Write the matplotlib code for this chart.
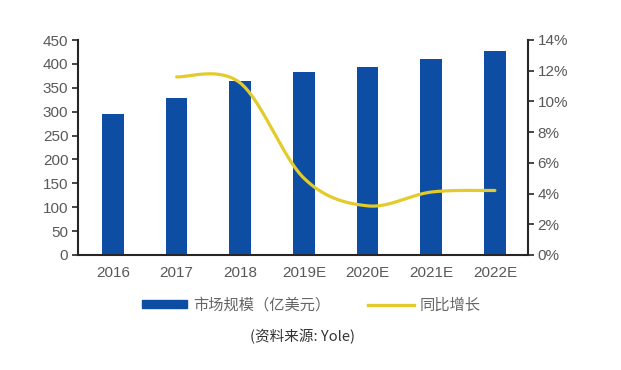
import numpy as np
import matplotlib
matplotlib.use("Agg")
import matplotlib.pyplot as plt
from matplotlib.patches import Patch
from matplotlib.lines import Line2D

years = ["2016", "2017", "2018", "2019E", "2020E", "2021E", "2022E"]
market_size = [295, 328, 365, 382, 394, 410, 428]
growth_years = ["2017", "2018", "2019E", "2020E", "2021E", "2022E"]
growth_pct = [11.6, 11.2, 5.0, 3.2, 4.1, 4.2]
left_ticks = [0, 50, 100, 150, 200, 250, 300, 350, 400, 450]
right_ticks = [0, 2, 4, 6, 8, 10, 12, 14]

BAR = "#0E4DA4"
LINE = "#E3CB2C"
TXT = "#595959"
SPINE = "#262626"

plt.rcParams["font.family"] = ["Liberation Sans", "DejaVu Sans"]

fig = plt.figure(figsize=(6.21, 3.70), dpi=100)
ax = fig.add_axes([78/621, 1-255/370, (528-78)/621, (255-40)/370])
x = np.arange(len(years))
ax.bar(x, market_size, width=0.34, color=BAR, zorder=2)
ax.set_xlim(-0.55, 6.52)
ax.set_ylim(0, 450)
ax.set_yticks(left_ticks)
ax.set_xticks(x)
ax.set_xticklabels(years)
for s in ["top", "right"]:
    ax.spines[s].set_visible(False)
for s in ["left", "bottom"]:
    ax.spines[s].set_color(SPINE)
    ax.spines[s].set_linewidth(1.5)
ax.tick_params(axis="y", direction="out", length=4, width=1.2, color=SPINE,
               labelsize=11, labelcolor=TXT, pad=3)
ax.tick_params(axis="x", length=0, labelsize=11, labelcolor=TXT, pad=8)

ax2 = ax.twinx()
ax2.set_ylim(0, 14)
ax2.set_yticks(right_ticks)
ax2.set_yticklabels([f"{t}%" for t in right_ticks])
for s in ["top", "left", "bottom"]:
    ax2.spines[s].set_visible(False)
ax2.spines["right"].set_color(SPINE)
ax2.spines["right"].set_linewidth(1.5)
ax2.tick_params(axis="y", direction="out", length=4, width=1.2, color=SPINE,
                labelsize=11, labelcolor=TXT, pad=3)

# smoothed line (Catmull-Rom rendering like Excel's smooth line)
gx = np.array([years.index(g) for g in growth_years], dtype=float)
gy = np.array(growth_pct, dtype=float)
n = len(gx)
px = np.concatenate([[gx[0]], gx, [gx[-1]]])
py = np.concatenate([[gy[0]], gy, [gy[-1]]])
cx, cy = [], []
t = np.linspace(0, 1, 40)
for i in range(n - 1):
    p0x, p1x, p2x, p3x = px[i], px[i+1], px[i+2], px[i+3]
    p0y, p1y, p2y, p3y = py[i], py[i+1], py[i+2], py[i+3]
    m1x, m2x = (p2x - p0x) / 2, (p3x - p1x) / 2
    m1y, m2y = (p2y - p0y) / 2, (p3y - p1y) / 2
    h00 = 2*t**3 - 3*t**2 + 1
    h10 = t**3 - 2*t**2 + t
    h01 = -2*t**3 + 3*t**2
    h11 = t**3 - t**2
    cx.extend(h00*p1x + h10*m1x + h01*p2x + h11*m2x)
    cy.extend(h00*p1y + h10*m1y + h01*p2y + h11*m2y)
ax2.plot(cx, cy, color=LINE, lw=2.3, solid_capstyle="round", zorder=3)

cjk = ["Noto Sans CJK SC", "DejaVu Sans"]
handles = [Patch(facecolor=BAR, edgecolor=BAR),
           Line2D([0], [0], color=LINE, lw=2.4)]
leg = fig.legend(handles, ["市场规模（亿美元）", "同比增长"], loc="center",
                 bbox_to_anchor=(311/621, 1-305/370), ncol=2, frameon=False,
                 prop={"family": cjk, "size": 11}, handlelength=3.0,
                 handleheight=0.45, handletextpad=0.35, columnspacing=2.5)
for txt in leg.get_texts():
    txt.set_color("#666666")

fig.text(302/621, 1-337/370, "(资料来源: Yole)", ha="center", va="center",
         fontsize=10.5, color="#333333", family=["Noto Sans CJK SC", "DejaVu Sans"])

fig.savefig("out.png", dpi=100)
